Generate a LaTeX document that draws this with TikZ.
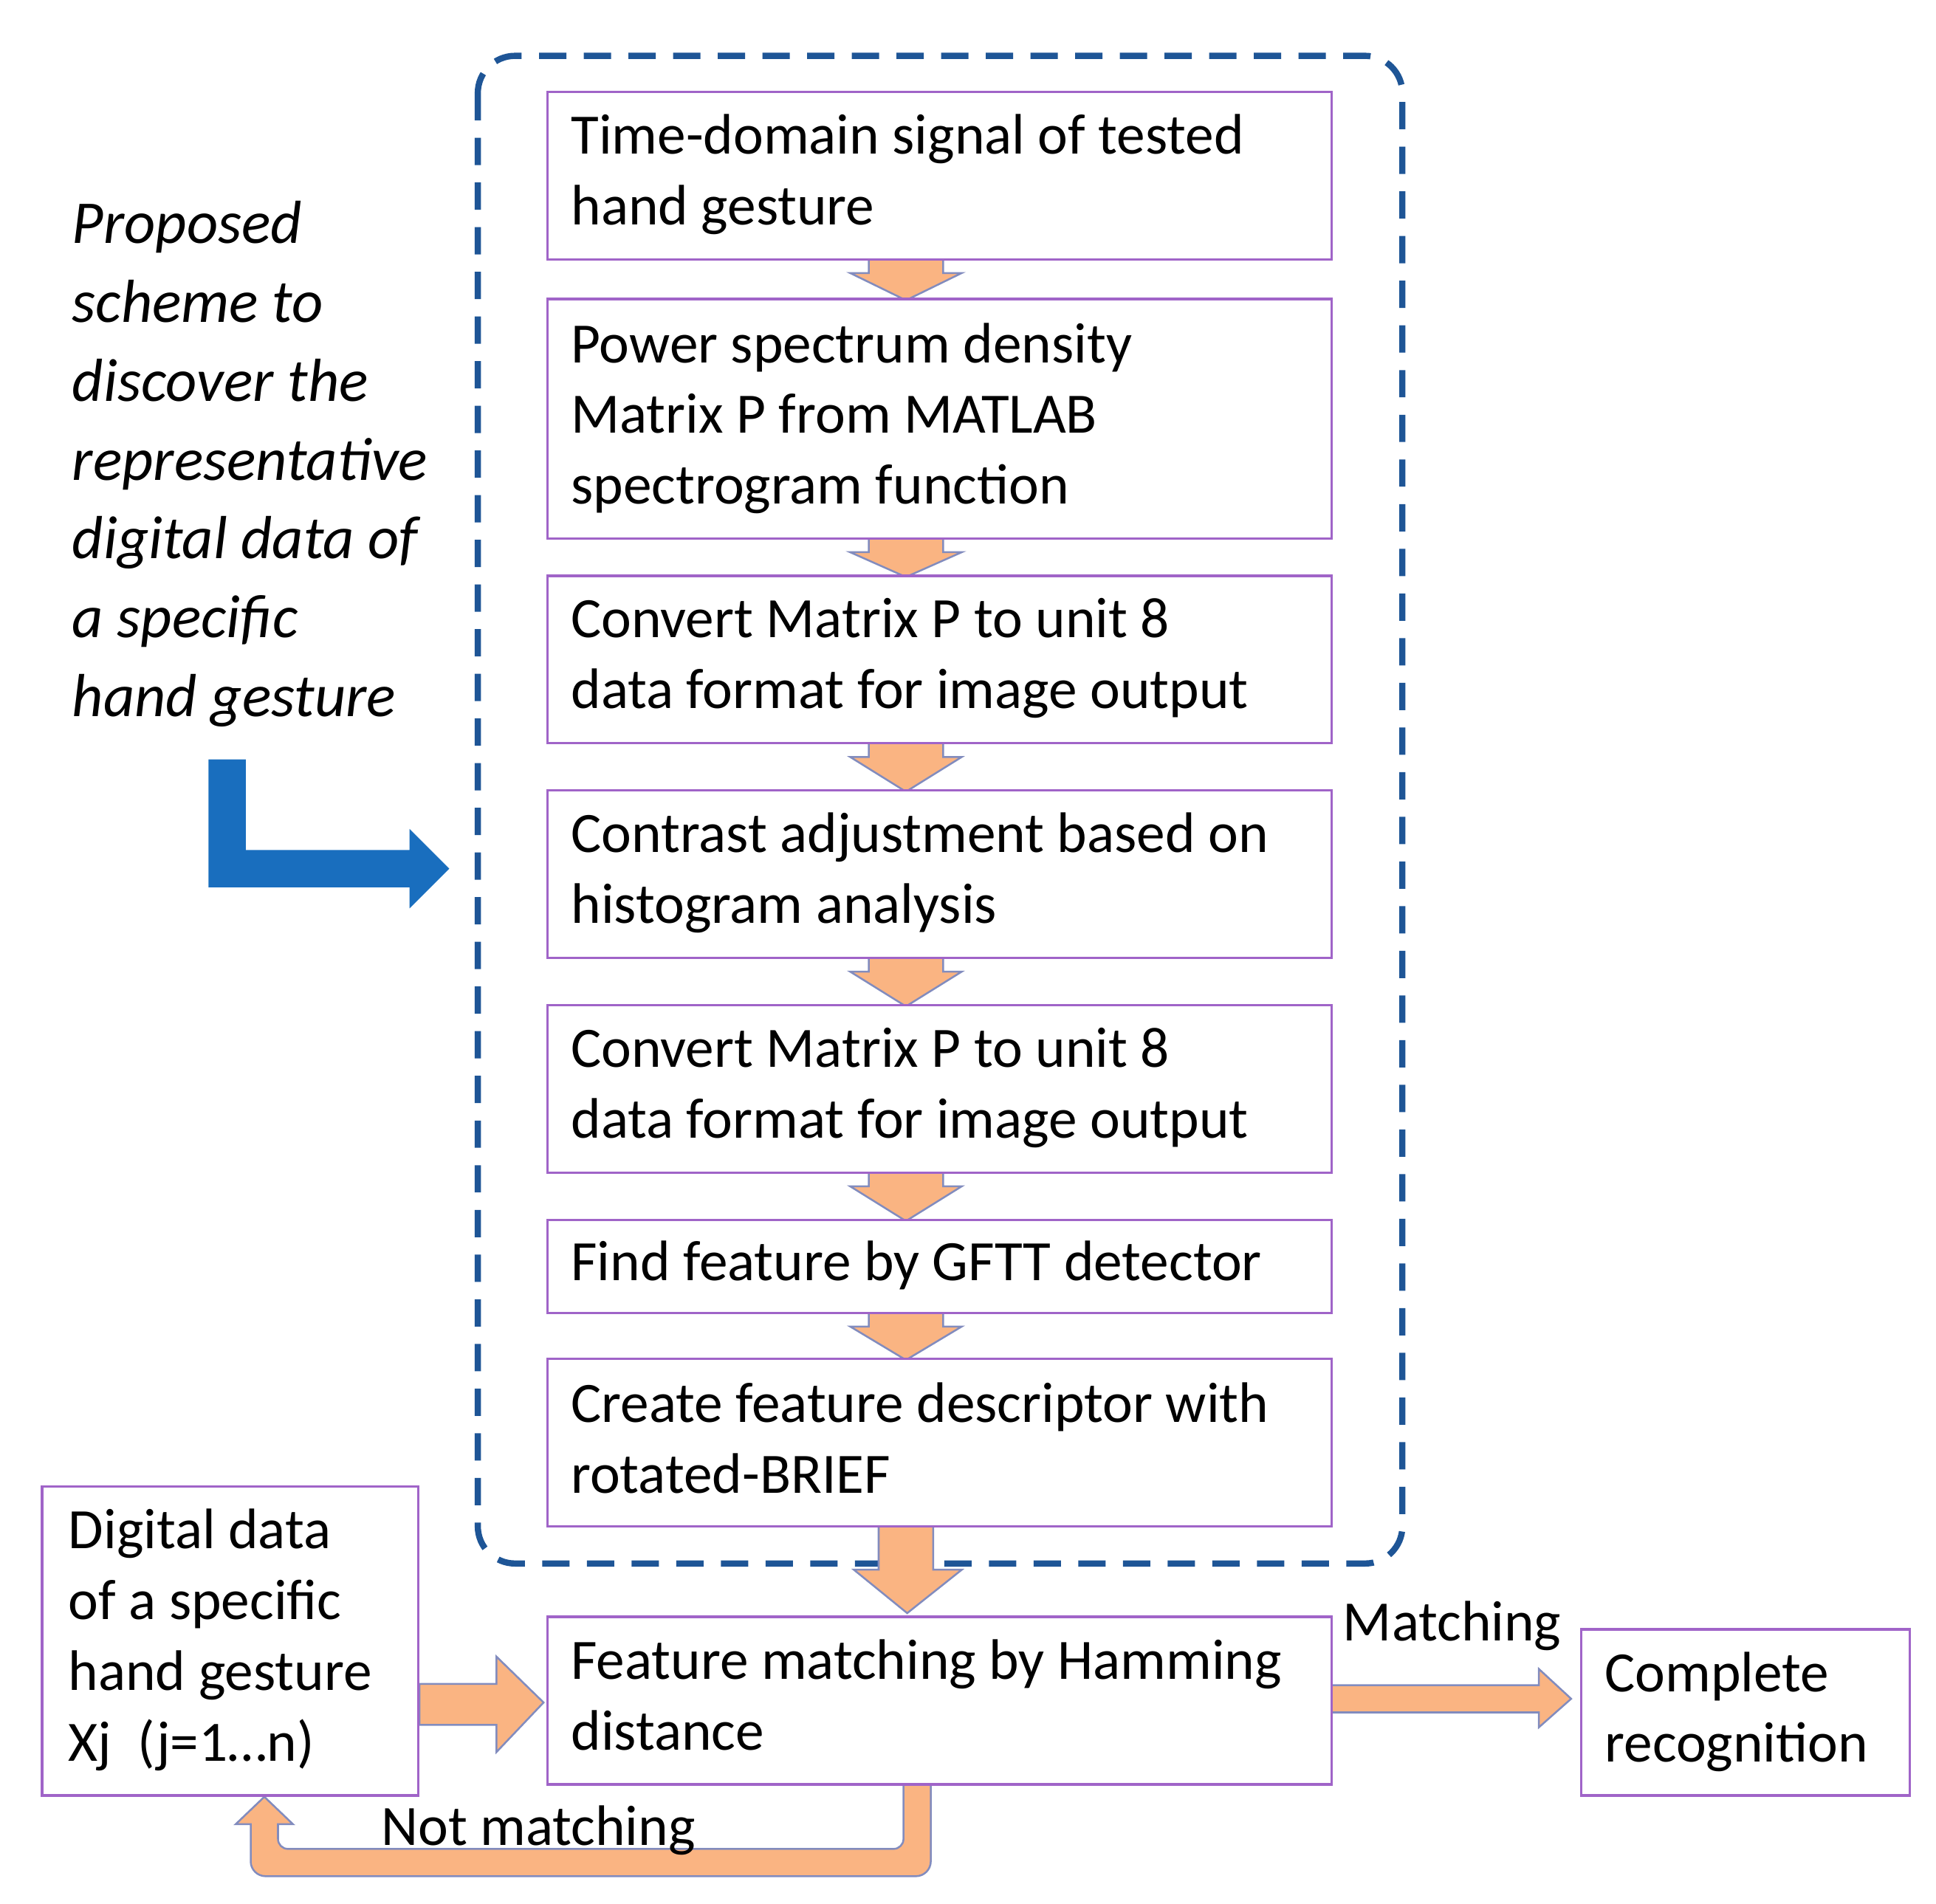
\documentclass[tikz,border=0pt]{standalone}
\usepackage{fontspec}
\setmainfont{Carlito}
\begin{document}
\begin{tikzpicture}[x=1pt,y=-1pt,
 box/.style={draw=boxc,line width=2pt,fill=white},
 txt/.style={anchor=north west,align=left,font=\fontsize{46}{57}\selectfont,inner sep=0pt},
 oarr/.style={fill=orng,draw=arrc,line width=1.5pt,line join=miter}]
\definecolor{boxc}{RGB}{160,100,200}
\definecolor{orng}{RGB}{250,180,130}
\definecolor{arrc}{RGB}{130,140,190}
\definecolor{dblue}{RGB}{30,85,150}
\definecolor{bblue}{RGB}{25,110,190}
\useasboundingbox (0,0) rectangle (1560,1534);
\draw[dblue,line width=5pt,dash pattern=on 22pt off 14pt,rounded corners=30pt] (385,45) rectangle (1130,1260);
% small down arrows
\foreach \a/\b in {208/240,433/463,598/636,771/809,944/982,1057/1094}{
 \draw[oarr] (700,\a) -- (760,\a) -- (760,\a+12) -- (775,\a+12) -- (730,\b+2) -- (685,\a+12) -- (700,\a+12) -- cycle;}
\draw[oarr] (708,1229) -- (752,1229) -- (752,1265) -- (775,1265) -- (731,1300) -- (688,1265) -- (708,1265) -- cycle;
% left to matching
\draw[oarr] (338,1357) -- (400,1357) -- (400,1335) -- (438,1372) -- (400,1412) -- (400,1390) -- (338,1390) -- cycle;
% matching to complete
\draw[oarr] (1073,1358) -- (1240,1358) -- (1240,1345) -- (1266,1369) -- (1240,1392) -- (1240,1380) -- (1073,1380) -- cycle;
% not matching loop
\draw[oarr] (728,1430) -- (750,1430) {[rounded corners=12pt] -- (750,1512) -- (202,1512)} -- (202,1470) -- (190,1470) -- (213,1448) -- (236,1470) -- (224,1470) {[rounded corners=8pt] -- (224,1490) -- (728,1490)} -- cycle;
% blue L arrow
\fill[bblue] (168,612) -- (198,612) -- (198,685) -- (330,685) -- (330,668) -- (362,700) -- (330,732) -- (330,715) -- (168,715) -- cycle;
% boxes
\node[box,minimum width=632pt,minimum height=135pt,anchor=north west] (b1) at (440,73) {};
\node[box,minimum width=632pt,minimum height=193pt,anchor=north west] (b2) at (440,240) {};
\node[box,minimum width=632pt,minimum height=135pt,anchor=north west] (b3) at (440,463) {};
\node[box,minimum width=632pt,minimum height=135pt,anchor=north west] (b4) at (440,636) {};
\node[box,minimum width=632pt,minimum height=135pt,anchor=north west] (b5) at (440,809) {};
\node[box,minimum width=632pt,minimum height=75pt,anchor=north west] (b6) at (440,982) {};
\node[box,minimum width=632pt,minimum height=135pt,anchor=north west] (b7) at (440,1094) {};
\node[box,minimum width=632pt,minimum height=135pt,anchor=north west] (b8) at (440,1302) {};
\node[box,minimum width=303pt,minimum height=249pt,anchor=north west] (bl) at (33,1197) {};
\node[box,minimum width=265pt,minimum height=134pt,anchor=north west] (br) at (1273,1312) {};
% texts
\node[txt] at (460,92) {Time-domain signal of tested\\hand gesture};
\node[txt] at (460,260) {Power spectrum density\\Matrix P from MATLAB\\spectrogram function};
\node[txt] at (460,482) {Convert Matrix P to unit 8\\data format for image output};
\node[txt] at (460,655) {Contrast adjustment based on\\histogram analysis};
\node[txt] at (460,828) {Convert Matrix P to unit 8\\data format for image output};
\node[txt] at (460,1000) {Find feature by GFTT detector};
\node[txt] at (460,1114) {Create feature descriptor with\\rotated-BRIEF};
\node[txt] at (460,1321) {Feature matching by Hamming\\distance};
\node[txt] at (55,1216) {Digital data\\of a specific\\hand gesture\\Xj\ \ (j=1\ldots n)};
\node[txt] at (1293,1331) {Complete\\recognition};
\node[txt] at (1082,1290) {Matching};
\node[txt] at (307,1455) {Not matching};
\node[txt,font=\fontsize{49}{63.5}\selectfont\itshape] at (58,162) {Proposed\\scheme to\\discover the\\representative\\digital data of\\a specific\\hand gesture};
\end{tikzpicture}
\end{document}
